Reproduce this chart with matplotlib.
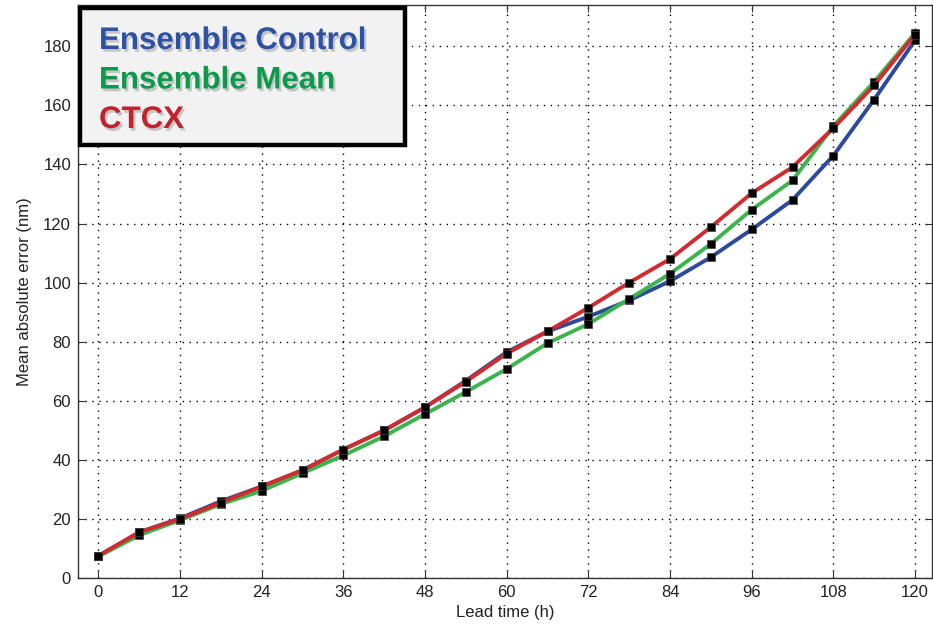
import matplotlib
matplotlib.use("Agg")
import matplotlib.pyplot as plt
import matplotlib.patheffects as pe
from matplotlib.patches import Rectangle

plt.rcParams['font.family'] = ['Liberation Sans', 'DejaVu Sans']

lead = [0, 6, 12, 18, 24, 30, 36, 42, 48, 54, 60, 66, 72, 78, 84, 90, 96, 102, 108, 114, 120]
control = [7.5, 15.5, 20.2, 26, 31, 36.5, 43.5, 50, 57.8, 66.8, 76.5, 83.5, 88.5, 94, 100.5, 108.6, 118, 128, 143, 162, 182]
mean = [7.3, 14.5, 19.6, 25, 29.5, 35.5, 41.5, 48, 55.5, 63, 70.8, 79.5, 86, 94.5, 103, 113.1, 124.7, 134.6, 153, 168, 184.5]
ctcx = [7.5, 15.5, 20, 25.5, 31, 36.5, 43.5, 50, 57.8, 66.5, 76, 83.5, 91.5, 100, 108, 118.8, 130.3, 139.1, 152.3, 166.8, 184]

names = ["Ensemble Control", "Ensemble Mean", "CTCX"]
line_colors = ["#2b4a9e", "#3cb44b", "#d32a30"]
text_colors = ["#2d52a3", "#0b9a4b", "#c1222b"]

fig = plt.figure(figsize=(9.33, 6.33), dpi=100)
ax = fig.add_axes([78 / 933, 55 / 633, 854 / 933, 573 / 633])

for ys, c in zip([control, mean, ctcx], line_colors):
    ax.plot(lead, ys, color=c, lw=2.8, marker='s', ms=5.5,
            mfc='black', mec='#444444', mew=0.5, zorder=3)

ax.set_xlim(-3, 122.5)
ax.set_ylim(0, 194)
ax.set_xticks(range(0, 121, 12))
ax.set_yticks(range(0, 181, 20))
ax.grid(True, color='black', linestyle=(0, (1, 4)), lw=1.0)
ax.tick_params(direction='in', length=5, top=True, right=True, pad=5,
               labelsize=12, labelcolor='#222222', color='#333333')
for s in ax.spines.values():
    s.set_color('#333333')
    s.set_linewidth(1.0)
ax.set_xlabel("Lead time (h)", fontsize=12, color='#222222', labelpad=4)
ax.set_ylabel("Mean absolute error (nm)", fontsize=12, color='#222222', labelpad=8)

# title box with the series names
box = Rectangle((80 / 933, 1 - 145 / 633), 325 / 933, 137 / 633,
                transform=fig.transFigure, facecolor='#f2f2f2',
                edgecolor='black', lw=3.2, zorder=5)
fig.patches.append(box)
shadow = [pe.withSimplePatchShadow(offset=(1.5, -2), shadow_rgbFace='#999999', alpha=0.5)]
for i, (name, c) in enumerate(zip(names, text_colors)):
    fig.text(99 / 933, 1 - (49 + 39.5 * i) / 633, name, color=c, fontsize=22.5,
             fontweight='bold', ha='left', va='baseline', zorder=6,
             path_effects=shadow)

fig.savefig("out.png", dpi=100)
